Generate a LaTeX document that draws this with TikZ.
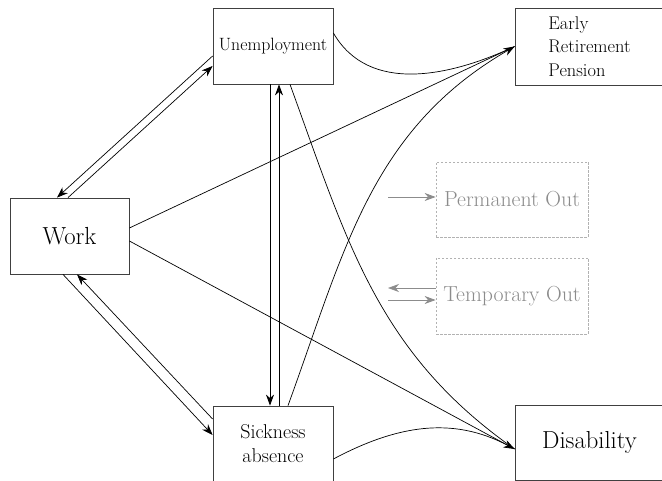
\documentclass[tikz,border=0pt]{standalone}
\usepackage{fontspec}
\usetikzlibrary{arrows.meta}

\begin{document}
\begin{tikzpicture}[x=1pt, y=1pt, >={Stealth[length=11pt, width=8pt, inset=3.5pt]},
        state/.style={draw=black!75, line width=0.8pt, inner sep=0pt, align=center},
        outstate/.style={draw=black!30, dash pattern=on 2.5pt off 1.5pt, line width=0.8pt,
            inner sep=0pt, text=black!45, font=\fontsize{21.8}{26}\selectfont}]
        % Box sizes
        \pgfmathsetmacro{\boxw}{120}
        \pgfmathsetmacro{\boxh}{76}
        \pgfmathsetmacro{\endw}{149}

        \useasboundingbox (0, 0) rectangle (662, -481);

        % States of the model
        \node[state, minimum width=\boxw pt, minimum height=\boxh pt,
            font=\fontsize{17.8}{21}\selectfont] (unemp) at (273, -46) {Unemployment};
        \node[state, minimum width=119pt, minimum height=\boxh pt,
            font=\fontsize{24.7}{29}\selectfont] (work) at (69.5, -236) {Work};
        \node[state, minimum width=\boxw pt, minimum height=75pt,
            font=\fontsize{20}{24}\selectfont] (sick) at (273, -443.5) {Sickness\\absence};
        \node[state, align=left, minimum width=\endw pt, minimum height=77pt,
            font=\fontsize{18.4}{23.5}\selectfont] (early) at (589.5, -46.5) {Early\\Retirement\\Pension};
        \node[state, minimum width=\endw pt, minimum height=75pt,
            font=\fontsize{24.6}{29}\selectfont] (disab) at (589.5, -442.5) {Disability};

        % Legend
        \node[outstate, minimum width=152pt, minimum height=75pt] (perm) at (512, -199.5) {Permanent Out};
        \node[outstate, minimum width=152pt, minimum height=76pt] (temp) at (512, -296) {Temporary Out};
        \coordinate (permfrom) at (388, -197);
        \coordinate (tempto) at (388, -288);
        \coordinate (tempfrom) at (388, -300);

        % Temporary transitions
        \begin{scope}[line width=0.7pt, ->]
            \draw ([yshift=-10pt]unemp.west) -- ([xshift=-12.5pt]work.north);
            \draw ([xshift=-1.5pt]work.north) -- ([yshift=-20pt]unemp.west);
            \draw ([xshift=-3pt]unemp.south) -- ([xshift=-3pt]sick.north);
            \draw ([xshift=6pt]sick.north) -- ([xshift=6pt]unemp.south);
            \draw ([xshift=-6.5pt]work.south) -- ([yshift=8.5pt]sick.west);
            \draw ([yshift=24.5pt]sick.west) -- ([xshift=7.5pt]work.south);
        \end{scope}

        % Permanent transitions
        \begin{scope}[line width=0.7pt]
            \draw ([yshift=8pt]work.east) -- (early.west);
            \draw ([yshift=13pt]unemp.east) to[out=-60, in=205] (early.west);
            \draw[->] ([xshift=15pt]sick.north) to[out=70, in=210] (early.west);
            \draw ([yshift=-5pt]work.east) -- ([yshift=-6.5pt]disab.west);
            \draw ([xshift=17pt]unemp.south) to[out=-70, in=145] ([yshift=-6.5pt]disab.west);
            \draw[->] ([yshift=-15.5pt]sick.east) to[out=28, in=152] ([yshift=-6.5pt]disab.west);
        \end{scope}

        % Legend arrows
        \begin{scope}[line width=0.7pt, black!45, ->]
            \draw (permfrom) -- ([yshift=2.5pt]perm.west);
            \draw ([yshift=8pt]temp.west) -- (tempto);
            \draw (tempfrom) -- ([yshift=-4pt]temp.west);
        \end{scope}

    \end{tikzpicture}
\end{document}
